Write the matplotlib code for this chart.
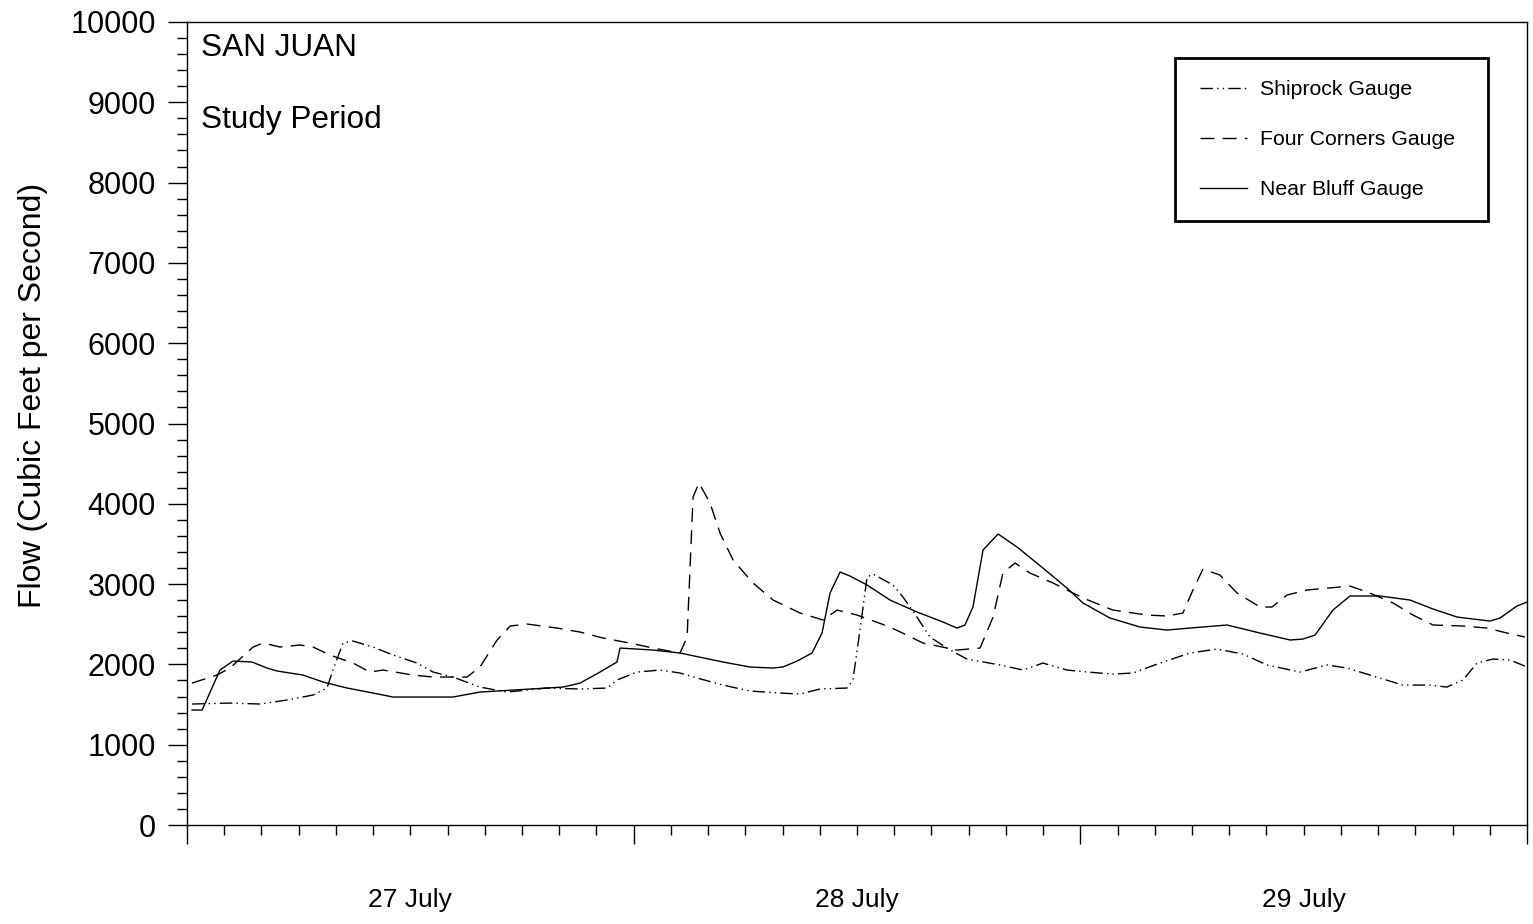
import matplotlib.pyplot as plt
from matplotlib.patches import Rectangle
from matplotlib.ticker import MultipleLocator

plt.rcParams['font.family'] = ['Liberation Sans', 'DejaVu Sans']

# hours since 00:00 on 27 July, flow in cfs
bluff_h = [0.27, 0.81, 1.77, 2.47, 3.49, 4.30, 4.84, 6.23, 7.31, 8.60, 9.99, 11.07,
           14.29, 15.74, 17.52, 20.20, 21.12, 22.19, 23.10, 23.27, 25.04, 26.49,
           28.80, 30.25, 31.49, 32.02, 32.78, 33.58, 34.12, 34.55, 35.09, 35.62,
           36.54, 37.77, 39.22, 40.62, 41.37, 41.80, 42.23, 42.77, 43.58, 44.60,
           45.99, 47.28, 48.14, 49.59, 51.20, 52.66, 53.89, 55.88, 57.65, 59.27,
           59.96, 60.61, 61.57, 62.49, 64.10, 65.71, 66.95, 68.24, 70.01, 70.55,
           71.46, 72.0]
bluff_q = [1432, 1432, 1930, 2042, 2030, 1955, 1918, 1868, 1781, 1706, 1644, 1594,
           1594, 1656, 1681, 1718, 1768, 1905, 2030, 2204, 2179, 2142,
           2030, 1968, 1955, 1968, 2042, 2142, 2391, 2889, 3151, 3101,
           2989, 2802, 2653, 2528, 2453, 2491, 2715, 3425, 3624, 3462,
           3200, 2951, 2765, 2578, 2466, 2428, 2453, 2491, 2391, 2304,
           2316, 2366, 2677, 2852, 2852, 2802, 2690, 2590, 2540, 2578,
           2727, 2777]

corners_h = [0.27, 1.61, 2.31, 3.55, 4.08, 5.00, 6.07, 6.77, 7.68, 8.92, 9.83, 10.53,
             12.14, 13.22, 15.04, 15.74, 16.66, 17.36, 18.27, 19.88, 21.12, 22.35,
             23.80, 25.04, 26.49, 26.87, 27.19, 27.51, 28.10, 28.64, 29.34, 30.41,
             31.49, 32.94, 34.17, 34.93, 36.00, 37.77, 39.55, 41.37, 42.61, 43.31,
             43.84, 44.49, 45.29, 46.53, 47.61, 48.41, 49.75, 51.58, 52.66, 53.51,
             54.05, 54.59, 55.50, 56.42, 57.65, 58.30, 59.10, 60.18, 61.95, 62.49,
             63.56, 64.80, 65.87, 66.95, 68.56, 69.85, 70.92, 71.89]
corners_q = [1768, 1868, 1955, 2217, 2266, 2217, 2242, 2217, 2117, 2017, 1905, 1930,
             1868, 1843, 1843, 1968, 2304, 2478, 2503, 2453, 2403, 2329,
             2266, 2204, 2142, 2341, 4085, 4259, 4010, 3636, 3300, 3014,
             2802, 2640, 2553, 2677, 2615, 2466, 2266, 2179, 2204, 2590,
             3138, 3263, 3138, 3014, 2889, 2802, 2677, 2615, 2603, 2640,
             2927, 3188, 3113, 2889, 2715, 2715, 2864, 2927, 2964, 2976,
             2889, 2765, 2615, 2491, 2478, 2453, 2391, 2341]

shiprock_h = [0.27, 2.31, 3.92, 5.37, 6.77, 7.52, 7.84, 8.38, 8.92, 9.99, 11.07, 12.36,
              13.22, 14.29, 15.74, 17.19, 19.34, 21.12, 22.57, 23.10, 24.18, 25.41,
              26.49, 27.40, 28.80, 30.25, 31.86, 32.94, 34.01, 35.46, 35.78, 36.16,
              36.54, 36.86, 37.93, 38.47, 39.22, 39.92, 41.00, 41.91, 43.69, 44.92,
              45.99, 47.28, 48.41, 49.75, 50.83, 52.28, 53.89, 55.34, 56.74, 58.03,
              59.80, 61.25, 62.33, 63.56, 65.33, 66.78, 67.69, 68.56, 69.31, 70.17,
              71.09, 72.0]
shiprock_q = [1507, 1519, 1507, 1557, 1619, 1706, 1930, 2266, 2291, 2217, 2117, 2017,
              1905, 1843, 1718, 1656, 1706, 1694, 1706, 1806, 1905, 1930,
              1893, 1831, 1743, 1669, 1644, 1631, 1694, 1706, 1806, 2428,
              3088, 3126, 2989, 2839, 2590, 2341, 2179, 2067, 1993, 1930,
              2017, 1930, 1905, 1880, 1893, 2017, 2142, 2191, 2129, 1993,
              1905, 1993, 1955, 1868, 1743, 1743, 1718, 1806, 2017, 2067,
              2055, 1968]

day_labels = ['27 July', '28 July', '29 July']
day_centers = [12, 36, 60]

fig = plt.figure(figsize=(15.33, 9.24), dpi=100)
ax = fig.add_axes([0.122, 0.1071, 0.8741, 0.8691])

ax.plot(shiprock_h, shiprock_q, color='black', lw=1.0,
        dashes=(9, 3, 1, 3, 1, 3), label='Shiprock Gauge')
ax.plot(corners_h, corners_q, color='black', lw=1.0,
        dashes=(10, 6), label='Four Corners Gauge')
ax.plot(bluff_h, bluff_q, color='black', lw=1.0, label='Near Bluff Gauge')

ax.set_xlim(0, 72)
ax.set_ylim(0, 10000)

ax.xaxis.set_major_locator(MultipleLocator(24))
ax.xaxis.set_minor_locator(MultipleLocator(2))
ax.yaxis.set_major_locator(MultipleLocator(1000))
ax.yaxis.set_minor_locator(MultipleLocator(200))
ax.set_xticklabels([])
ax.tick_params(axis='both', which='major', direction='out', length=13.5, width=1,
               labelsize=22, pad=9)
ax.tick_params(axis='both', which='minor', direction='out', length=7.5, width=1)
ax.tick_params(axis='x', which='both', top=False)
ax.tick_params(axis='y', which='both', right=False)

for s in ax.spines.values():
    s.set_linewidth(1.0)

for lbl, c in zip(day_labels, day_centers):
    ax.text(c, -0.093, lbl, transform=ax.get_xaxis_transform(),
            ha='center', va='center', fontsize=19)

ax.set_ylabel('Flow (Cubic Feet per Second)', fontsize=23)
ax.yaxis.set_label_coords(-0.104, 0.535)

ax.text(0.0104, 0.9676, 'SAN JUAN', transform=ax.transAxes, fontsize=22.7,
        ha='left', va='center')
ax.text(0.0104, 0.878, 'Study Period', transform=ax.transAxes, fontsize=22.7,
        ha='left', va='center')

# legend box drawn separately so it can be wider than the entries
ax.add_patch(Rectangle((0.737, 0.752), 0.234, 0.203, transform=ax.transAxes,
                       facecolor='white', edgecolor='black', lw=2.0, zorder=4))
ax.legend(loc='upper left', bbox_to_anchor=(0.7396, 0.955), fontsize=15.3,
          frameon=False, handlelength=2.2, handletextpad=0.6,
          labelspacing=1.45, borderpad=1.05, borderaxespad=0)

fig.savefig('out.png', dpi=100)
